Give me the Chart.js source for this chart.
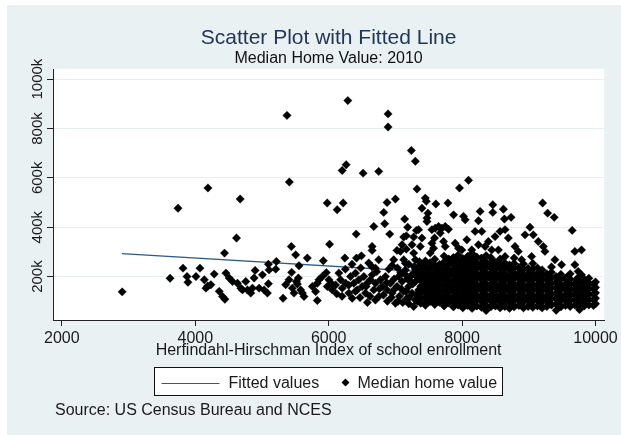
<!DOCTYPE html>
<html>
<head>
<meta charset="utf-8">
<script src="https://cdn.jsdelivr.net/npm/chart.js@4"></script>
<style>
html,body{margin:0;padding:0;background:#ffffff;}
#wrap{width:621px;height:435px;position:relative;}
canvas{display:block;}
</style>
</head>
<body>
<div id="wrap"><canvas id="c" width="621" height="435"></canvas></div>
<script>
// ---- text ----
const titleText = 'Scatter Plot with Fitted Line';
const subtitleText = 'Median Home Value: 2010';
const xAxisTitle = 'Herfindahl-Hirschman Index of school enrollment';
const noteText = 'Source: US Census Bureau and NCES';
const legendLabels = ['Fitted values', 'Median home value'];

// ---- ticks ----
const xTickValues = [2000, 4000, 6000, 8000, 10000];
const xTickLabels = ['2000', '4000', '6000', '8000', '10000'];
const yTickValues = [200, 400, 600, 800, 1000];           // thousands of dollars
const yTickLabels = ['200k', '400k', '600k', '800k', '1000k'];

// ---- fitted line (HHI, median home value in $k) ----
const fittedLine = [[2900, 293], [10000, 178]];

// ---- scatter: [HHI, median home value in $k] ----
const lowHhiPoints = [
 [2904,138],[3622,193],[3741,477],[3816,234],[3876,200],[3890,177],[4010,200],[4070,234],
 [4135,187],[4160,153],[4185,162],[4190,559],[4234,167],[4284,210],[4359,140],[4409,119],
 [4438,295],[4444,108],[4459,214],[4508,194],[4558,180],[4618,356],[4633,173],[4673,514],
 [4683,153],[4708,146],[4757,180],[4782,146],[4832,133],[4857,153],[4882,194],[4897,225],
 [4957,153],[5007,207],[5032,146],[5081,133],[5096,171],[5096,250],[5106,227],[5206,230],
 [5216,261],[5316,112],[5355,167],[5375,853],[5405,187],[5410,583],[5440,322],[5445,217],
 [5455,153],[5480,133],[5505,288],[5515,180],[5530,170],[5545,194],[5555,244],[5580,146],
 [5605,133],[5630,119],[5679,275],[5755,160]
];
const midHhiPoints = [
 [5804,139],[5829,103],[5829,173],[5854,187],[5904,200],[5964,216],[6003,187],[5979,160],
 [6053,146],[6103,166],[6153,214],[6178,187],[6203,153],[6253,173],[6302,133],[6352,112],
 [6327,200],[6402,214],[6377,173],[6452,187],[6427,146],[6502,160],[6527,200],[6552,133],
 [6577,173],[6626,187],[6651,207],[6676,146],[6701,173],[6751,119],[6776,187],[6801,160],
 [6851,200],[6875,146],[6925,173],[6950,133],[7000,92],[7025,160],[7050,200],[7100,180],
 [7125,139],[7150,227],[7174,112],[7199,160],[7224,200],[7249,133],[7274,79],[7299,180],
 [7324,234],[7349,146],[6701,234],[6580,95],[6620,120],[6700,105],[6760,150],[6820,125],
 [6880,100],[6940,115],[6990,150],[7060,120],[7110,95],[7160,140],[7210,115],[7260,170],
 [7300,105],[6650,240],[6720,220],[6900,230],[7030,235],[7200,250],[7320,200],[6560,160],
 [6870,175],[7080,215],[7230,180],[6470,115],[6400,140],[6300,165],[6200,120],[6120,130],
 [6050,170],[6250,230],[6480,235],[6350,250],[6600,255],[6950,245],
 [7310,125],[7340,190],[7350,215],[7280,240],[7330,100],[7260,210],[7200,90],[7180,190],
 [7140,210],[7090,150],[7040,100],[6980,190],[7360,260],[7300,230]
];
const highValuePoints = [
 [5919,264],[5978,498],[6013,331],[6127,471],[6287,913],[6890,859],[6890,806],[7239,711],
 [7299,667],[6202,630],[6262,653],[6516,619],[6750,626],[7324,555],[7961,559],[8096,590],
 [6217,498],[6875,500],[7000,514],[7448,518],[7463,505],[7607,494],[7787,498],[7398,477],
 [6825,460],[7139,433],[7872,450],[8021,444],[8046,430],[8270,464],[8460,491],[8460,460],
 [8619,473],[8634,433],[8734,440],[9207,498],[9282,457],[9381,440],[8245,426],[6840,414],
 [6676,403],[7184,400],[7314,387],[6412,372],[6915,372],[7164,365],[6651,322],[6651,306],
 [7024,306],[7074,302],[7249,329],[7274,295],[6242,275],[6417,275],[6491,284],[6750,268],
 [6975,268],[7149,254],[7100,329],[7164,311],[7299,268],[7125,268],[7125,360],[7274,360],
 [7488,457],[7473,437],[7473,423],
 [7547,390],[7597,396],[7647,403],[7697,396],[7747,403],[7796,392],[7672,376],[7587,356],
 [7547,335],[7722,342],[7747,322],[7572,315],[7522,295],[7348,390],[7398,356],[7373,322],
 [7896,335],[7946,315],[7996,308],[8071,349],[8145,308],[8195,383],[8295,383],[8245,329],
 [8345,322],[8394,342],[8444,308],[8494,362],[8569,383],[8644,390],[8693,356],[8793,322],
 [8843,302],[8943,369],[9017,400],[9067,369],[9142,342],[9217,322],[9242,302],[9042,281],
 [8893,268],[8644,281],[8544,308],[8095,281],[7996,254],[7846,268],[9391,268],[9491,248],
 [9690,248],[9740,221],[9790,207],[9650,387],[9690,302],[9790,308]
];
// dense mass of towns between HHI 7400 and 10000
const denseColumnsX = [7380,7450,7520,7590,7660,7730,7800,7870,7940,8010,8080,8150,8220,8290,
 8360,8430,8500,8570,8640,8710,8780,8850,8920,8990,9060,9130,9200,9270,9340,9410,9480,9550,
 9620,9690,9760,9830,9900,9970,10000];
const denseColumnsValues = [
 [92,116,139,161,186,207,229,251],
 [84,107,131,151,173,196,214,241,263],
 [99,121,146,166,187,211,233,256],
 [87,111,133,154,177,199,219,246,270],
 [96,117,141,159,183,204,229,249],
 [81,104,127,149,169,193,215,235,259,283],
 [93,114,137,157,181,203,223,247,271],
 [77,101,121,145,167,187,211,231,255,277],
 [85,109,129,153,173,197,217,241,261,287],
 [73,97,117,141,161,185,205,229,249,273],
 [83,107,127,151,171,195,215,239,259,281],
 [71,95,115,139,159,183,203,227,247,271,293],
 [81,105,125,149,169,193,213,237,257,279],
 [75,99,119,143,163,187,207,231,251,275],
 [62,83,107,127,151,171,195,215,239,259,285],
 [77,101,121,145,165,189,209,233,253,277],
 [81,105,125,149,169,193,213,237,257],
 [73,97,117,141,161,185,205,229,249,271],
 [79,103,123,147,167,191,211,235,255],
 [71,95,115,139,159,183,203,227,247],
 [77,101,121,145,165,189,209,233,253,275],
 [83,107,127,151,171,195,215,237],
 [73,97,117,141,161,185,205,229,251],
 [79,103,123,147,167,191,211,233],
 [75,99,119,143,163,187,207,231,253],
 [81,105,125,149,169,193,213,235],
 [73,97,117,141,161,185,205,227],
 [79,103,123,147,167,191,211],
 [85,109,129,153,173,197,217,239],
 [63,89,111,133,155,177,199],
 [77,101,121,145,165,189,209],
 [83,107,127,151,171,193],
 [79,103,123,145,167,189,211],
 [85,107,129,151,171],
 [66,89,111,133,155,177,197],
 [81,103,125,147,169,189],
 [85,107,129,151,173,193],
 [83,105,127,149,169],
 [90,112,134,156,178]
];
const denseFillX = [7485,7625,7765,7905,8045,8185,8325,8465,8605,8745,8885,9025,9165,9305,
 9445,9585,9725,9865];
const denseFillValues = [
 [96,120,143,165,188,209,232],
 [99,122,144,166,188,210,233],
 [92,116,138,160,182,204,226,248],
 [89,112,134,156,178,200,222,244,266],
 [85,108,130,152,174,196,218,240,262],
 [83,106,128,150,172,194,216,238,260],
 [88,110,132,154,176,198,220,242,264],
 [86,108,130,152,174,196,218,240,262],
 [84,106,128,150,172,194,216,238],
 [88,110,132,154,176,198,220,242],
 [85,107,129,151,173,195,217],
 [87,109,131,153,175,197,219],
 [84,106,128,150,172,194,216],
 [88,110,132,154,176,198],
 [85,107,129,151,173,195],
 [89,111,133,155,177,199],
 [86,108,130,152,174,192],
 [90,112,134,156,178]
];

// ---- build dataset points ----
const scatterData = [...lowHhiPoints, ...midHhiPoints, ...highValuePoints].map(([x, y]) => ({x, y}));
denseColumnsX.forEach((x, i) => denseColumnsValues[i].forEach(y => scatterData.push({x, y})));
denseFillX.forEach((x, i) => denseFillValues[i].forEach(y => scatterData.push({x, y})));
const lineData = fittedLine.map(([x, y]) => ({x, y}));

const FONT = '"Liberation Sans", Arial, sans-serif';
const LINE_COLOR = '#2d5a85';
const BG = '#e9f1f3';

const decor = {
  id: 'decor',
  beforeDraw(chart) {
    const {ctx, chartArea: a} = chart;
    ctx.save();
    ctx.fillStyle = '#ffffff';
    ctx.fillRect(0, 0, chart.width, chart.height);
    ctx.fillStyle = BG;
    ctx.fillRect(7, 5, chart.width - 7, chart.height - 5);
    ctx.fillStyle = '#ffffff';
    ctx.fillRect(a.left, a.top, a.right - a.left, a.bottom - a.top);
    ctx.restore();
  },
  afterDraw(chart) {
    const {ctx, chartArea: a} = chart;
    const cx = (a.left + a.right) / 2;
    const ys = chart.scales.y;
    ctx.save();
    // y tick labels (rotated)
    ctx.fillStyle = '#1a1a1a';
    ctx.font = '15px ' + FONT;
    ctx.textAlign = 'center';
    ctx.textBaseline = 'alphabetic';
    yTickValues.forEach((v, i) => {
      const py = ys.getPixelForValue(v);
      ctx.save();
      ctx.translate(42, py);
      ctx.rotate(-Math.PI / 2);
      ctx.fillText(yTickLabels[i], 0, 0);
      ctx.restore();
    });
    // title & subtitle
    ctx.textAlign = 'center';
    ctx.fillStyle = '#22365a';
    ctx.font = '21px ' + FONT;
    ctx.fillText(titleText, cx, 44);
    ctx.fillStyle = '#111111';
    ctx.font = '16px ' + FONT;
    ctx.fillText(subtitleText, cx, 63);
    // x axis title
    ctx.font = '16px ' + FONT;
    ctx.fillStyle = '#1a1a1a';
    ctx.fillText(xAxisTitle, cx, 355);
    // legend
    const bl = Math.round(cx - 174.5) + 0.5;
    ctx.fillStyle = '#ffffff';
    ctx.fillRect(bl, 367.5, 348, 28);
    ctx.strokeStyle = '#111111';
    ctx.lineWidth = 1;
    ctx.strokeRect(bl, 367.5, 348, 28);
    ctx.strokeStyle = LINE_COLOR;
    ctx.lineWidth = 1.2;
    ctx.beginPath();
    ctx.moveTo(bl + 7, 383.5);
    ctx.lineTo(bl + 65, 383.5);
    ctx.stroke();
    ctx.fillStyle = '#1a1a1a';
    ctx.textAlign = 'left';
    ctx.fillText(legendLabels[0], bl + 74, 388);
    ctx.beginPath();
    const dx = bl + 191, dy = 382.5, r = 4;
    ctx.moveTo(dx, dy - r); ctx.lineTo(dx + r, dy); ctx.lineTo(dx, dy + r); ctx.lineTo(dx - r, dy);
    ctx.closePath();
    ctx.fillStyle = '#000000';
    ctx.fill();
    ctx.fillStyle = '#1a1a1a';
    ctx.fillText(legendLabels[1], bl + 203, 388);
    // note
    ctx.fillText(noteText, 55, 415);
    ctx.restore();
  }
};

new Chart(document.getElementById('c'), {
  type: 'scatter',
  data: {
    datasets: [
      {
        label: legendLabels[0],
        type: 'line',
        data: lineData,
        borderColor: LINE_COLOR,
        borderWidth: 1.3,
        pointRadius: 0,
        fill: false,
        order: 1
      },
      {
        label: legendLabels[1],
        data: scatterData,
        pointStyle: 'rectRot',
        pointRadius: 4.2,
        pointBackgroundColor: '#000000',
        pointBorderColor: '#000000',
        pointBorderWidth: 0.4,
        order: 0
      }
    ]
  },
  options: {
    responsive: false,
    animation: false,
    devicePixelRatio: 1,
    layout: {padding: {left: 0, right: 15, top: 69, bottom: 0}},
    plugins: {legend: {display: false}, tooltip: {enabled: false}, title: {display: false}},
    scales: {
      x: {
        type: 'linear',
        min: 1867,
        max: 10130,
        afterBuildTicks: s => { s.ticks = xTickValues.map(v => ({value: v})); },
        afterFit: s => { s.height = 115; },
        ticks: {
          font: {family: FONT, size: 16},
          color: '#1a1a1a',
          padding: 3,
          maxRotation: 0,
          minRotation: 0,
          autoSkip: false,
          callback: (v) => xTickLabels[xTickValues.indexOf(v)] ?? String(v)
        },
        grid: {drawOnChartArea: false, tickLength: 6, tickColor: '#222222', tickWidth: 1},
        border: {display: true, color: '#222222', width: 1}
      },
      y: {
        type: 'linear',
        min: 24,
        max: 1041,
        afterBuildTicks: s => { s.ticks = yTickValues.map(v => ({value: v})); },
        afterFit: s => { s.width = 53; },
        ticks: {display: false},
        grid: {color: '#e6eff2', lineWidth: 1, tickLength: 6, tickColor: '#222222', tickWidth: 1},
        border: {display: true, color: '#222222', width: 1}
      }
    }
  },
  plugins: [decor]
});
</script>
</body>
</html>
